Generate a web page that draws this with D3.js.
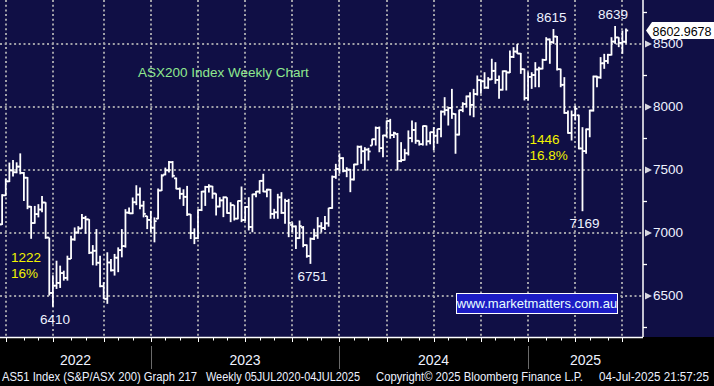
<!DOCTYPE html>
<html>
<head>
<meta charset="utf-8">
<script src="https://cdn.jsdelivr.net/npm/d3@7"></script>
<style>
body { margin: 0; background: #000; }
text { font-family: "Liberation Sans", Arial, sans-serif; }
</style>
</head>
<body>
<div class="chart"></div>
<script>
// weekly bars, first one is the week ending 11 Mar 2022
let firstWeek = new Date(2022, 2, 11);

let opens = [
	7110,7064,7295,7406,7493,7478,7523,7473,7435,7205, 7075,7146,7182,7238,6960,6520,6578,6600,6678,6640,
	6791,6945,7000,7032,7115,7104,6840,6855,6760,6574, 6474,6762,6700,6800,6860,6892,7158,7152,7240,7301,
	7213,7130,7100,7038,7110,7333,7460,7494,7558,7430, 7347,7307,7283,7144,6996,6955,7178,7325,7362,7366,
	7309,7206,7255,7279,7154,7217,7110,7251,7099,7203, 7044,7303,7325,7410,7325,7340,7148,7160,7279,7156,
	7250,7060,7048,6955,7040,6900,6813,6950,6976,7049, 7036,7073,7194,7442,7505,7590,7489,7499,7421,7540,
	7680,7645,7658,7690,7740,7830,7670,7770,7885,7773, 7780,7567,7575,7629,7749,7814,7728,7701,7845,7724,
	7796,7768,7822,7959,7971,7989,7940,7777,7971,8020, 8080,8013,8099,8209,8200,8150,8215,8283,8211,8133,
	8280,8270,8394,8436,8420,8296,8067,8235,8250,8294, 8300,8370,8532,8511,8555,8296,8172,7949,7790,7931,
	7930,7667,7646,7819,7968,8238,8231,8343,8361,8410, 8515,8548,8505,8514
];
let highs = [
	7140,7304,7428,7555,7576,7557,7628,7480,7440,7210, 7211,7225,7290,7240,6960,6660,6776,6737,6697,6816,
	6974,7040,7050,7146,7132,7106,6900,7027,6816,6605, 6843,6790,6830,6882,7027,7185,7199,7278,7375,7357,
	7251,7132,7172,7120,7349,7462,7515,7567,7567,7436, 7357,7343,7370,7146,7033,7185,7330,7370,7383,7370,
	7310,7280,7286,7280,7240,7217,7254,7365,7210,7280, 7307,7330,7415,7466,7347,7345,7188,7307,7320,7267,
	7267,7080,7055,7095,7051,6905,6960,7030,7122,7082, 7130,7196,7452,7545,7628,7598,7518,7505,7545,7690,
	7690,7677,7672,7745,7841,7841,7775,7889,7902,7800, 7790,7717,7664,7810,7889,7875,7730,7849,7849,7800,
	7836,7823,7968,8074,7994,8140,7945,7975,8034,8087, 8113,8140,8246,8215,8272,8233,8379,8352,8246,8286,
	8286,8445,8471,8497,8425,8300,8272,8272,8352,8315, 8379,8550,8540,8615,8560,8300,8233,7968,7968,8008,
	7935,7836,7825,7975,8245,8245,8392,8418,8418,8550, 8639,8550,8603,8620
];
let lows = [
	7040,7060,7290,7400,7444,7470,7462,7250,7185,6950, 7070,7120,7160,6950,6500,6410,6552,6560,6618,6618,
	6790,6935,6990,7030,6990,6829,6740,6737,6566,6473, 6434,6690,6658,6685,6803,6880,7146,7146,7217,7185,
	7120,7027,7000,6922,7106,7330,7454,7476,7436,7343, 7264,7211,7132,6948,6908,6948,7170,7211,7317,7268,
	7135,7200,7122,7148,7082,7095,7105,7082,7090,7016, 7002,7280,7307,7320,7280,7109,7109,7109,7148,7069,
	6963,7002,6870,6950,6883,6800,6751,6940,6950,7000, 7020,7046,7188,7426,7466,7479,7439,7320,7413,7535,
	7545,7492,7571,7690,7690,7637,7598,7756,7744,7750, 7492,7558,7571,7611,7717,7704,7690,7690,7690,7700,
	7651,7704,7756,7929,7849,7902,7625,7770,7955,7994, 7929,7915,8087,8101,8140,8140,8210,8180,8061,8127,
	8127,8265,8385,8418,8259,8048,8048,8140,8153,8153, 8295,8365,8339,8497,8286,8153,7942,7783,7730,7889,
	7660,7169,7625,7756,7960,8153,8220,8299,8339,8405, 8497,8471,8418,8500
];
let closes = [
	7064,7295,7406,7493,7478,7523,7473,7435,7205,7075, 7146,7182,7238,6960,6520,6578,6600,6678,6640,6791,
	6945,7000,7032,7115,7104,6840,6855,6760,6574,6474, 6762,6700,6800,6860,6892,7158,7152,7240,7301,7213,
	7148,7100,7038,7090,7333,7452,7494,7558,7450,7347, 7307,7283,7144,6996,6955,7178,7325,7362,7366,7309,
	7206,7255,7279,7154,7217,7110,7251,7099,7203,7044, 7303,7325,7410,7325,7340,7148,7160,7279,7156,7250,
	7076,7048,6955,7051,6900,6813,6950,6976,7049,7036, 7073,7194,7442,7505,7590,7489,7499,7421,7540,7680,
	7645,7658,7643,7740,7830,7670,7770,7885,7773,7789, 7567,7575,7629,7749,7814,7728,7701,7845,7724,7796,
	7768,7822,7959,7971,7989,7943,7777,7971,8020,8080, 8013,8099,8209,8200,8150,8215,8283,8211,8133,8280,
	8270,8394,8436,8420,8296,8067,8235,8250,8294,8300, 8370,8532,8511,8555,8296,8172,7949,7790,7931,7982,
	7667,7646,7819,7968,8238,8231,8343,8361,8410,8515, 8548,8505,8514,8603
];

let lastPrice = '8602.9678';
let yTicks = [6500, 7000, 7500, 8000, 8500];
let yMinorTicks = [6250, 6750, 7250, 7750, 8250, 8750];
let years = ['2022', '2023', '2024', '2025'];

// swing labels: bar index + which end of the bar
let swingBars = [15, 86, 153, 161, 170];
let swingEnds = ['low', 'low', 'high', 'low', 'high'];
let dropTexts = [['1222', '16%'], ['1446', '16.8%']];
let dropBars = [15, 161];

let footer = ['AS51 Index (S&P/ASX 200) Graph 217', 'Weekly 05JUL2020-04JUL2025',
	'Copyright\u00a9 2025 Bloomberg Finance L.P.', '04-Jul-2025 21:57:25'];

let weeks = opens.map((d, i) => d3.timeDay.offset(firstWeek, 7 * i));

let W = 714, H = 386;
let plotW = 643, plotH = 337;

let svg = d3.select('.chart')
	.append('svg')
	.attr('width', W)
	.attr('height', H);

svg.append('rect').attr('width', W).attr('height', H).style('fill', '#000');
svg.append('rect').attr('width', W).attr('height', plotH).style('fill', '#100f45');

let xScale = d3.scaleLinear()
	.domain([0, opens.length - 1])
	.range([-1.5, 626]);

let yScale = d3.scaleLinear()
	.domain([6500, 8500])
	.range([295.5, 43.5]);

// index of the last bar before a date (bloomberg puts grid/ticks there)
function barBefore(date) {
	let i = d3.bisectLeft(weeks, date) - 1;
	return i;
}

let months = d3.timeMonth.range(new Date(2022, 3, 1), new Date(2025, 7, 1));
let monthIdx = months.map(barBefore).filter(i => i >= 0);
let quarters = months.filter(m => m.getMonth() % 3 == 0);
let quarterIdx = quarters.map(barBefore).filter(i => i >= 0);
let yearStarts = [new Date(2023, 0, 1), new Date(2024, 0, 1), new Date(2025, 0, 1)];
let yearIdx = yearStarts.map(barBefore);

// grid
let grid = svg.append('g')
	.style('stroke', '#a0a0a8')
	.style('stroke-width', 2)
	.style('stroke-dasharray', '2,2.7');

grid.selectAll('.vgrid')
	.data(quarterIdx)
	.enter().append('line')
	.attr('x1', d => Math.round(xScale(d)))
	.attr('x2', d => Math.round(xScale(d)))
	.attr('y1', 0)
	.attr('y2', plotH);

grid.selectAll('.hgrid')
	.data(yTicks)
	.enter().append('line')
	.attr('x1', 0)
	.attr('x2', plotW)
	.attr('y1', d => Math.round(yScale(d)))
	.attr('y2', d => Math.round(yScale(d)));

// OHLC bars
let bars = svg.append('g')
	.style('stroke', '#fff')
	.style('stroke-width', 1.8);

let bar = bars.selectAll('.bar')
	.data(opens.map((o, i) => i))
	.enter().append('g');

bar.append('line')
	.attr('x1', i => xScale(i)).attr('x2', i => xScale(i))
	.attr('y1', i => yScale(highs[i])).attr('y2', i => yScale(lows[i]));
bar.append('line')
	.attr('x1', i => xScale(i) - 2.2).attr('x2', i => xScale(i))
	.attr('y1', i => yScale(opens[i])).attr('y2', i => yScale(opens[i]));
bar.append('line')
	.attr('x1', i => xScale(i)).attr('x2', i => xScale(i) + 2.2)
	.attr('y1', i => yScale(closes[i])).attr('y2', i => yScale(closes[i]));

// right axis
let axisG = svg.append('g')
	.attr('transform', 'translate(' + plotW + ',0)');

axisG.append('line')
	.attr('x1', 0).attr('x2', 0).attr('y1', 0).attr('y2', plotH)
	.style('stroke', '#fff').style('stroke-width', 1.5);

axisG.append('g')
	.call(d3.axisRight(yScale).tickValues(yMinorTicks).tickSize(4).tickFormat(''))
	.call(g => g.select('.domain').remove())
	.selectAll('line').style('stroke', '#fff').style('stroke-width', 1.3);

let yAxis = axisG.append('g')
	.call(d3.axisRight(yScale).tickValues(yTicks).tickSize(0).tickPadding(10).tickFormat(d3.format('d')))
	.call(g => g.select('.domain').remove());

yAxis.selectAll('text')
	.style('fill', '#eef2ff')
	.style('font-size', '13.5px')
	.style('font-family', '"Liberation Sans", Arial, sans-serif');

yAxis.selectAll('.tick')
	.append('path')
	.attr('d', 'M2,-3.5L9,0L2,3.5Z')
	.style('fill', '#d8d8e0');

// last price marker
let yl = yScale(+lastPrice);
let lp = svg.append('g').attr('transform', 'translate(0,' + yl + ')');
lp.append('path')
	.attr('d', 'M646,0L652,-8.5L714,-8.5L714,8.5L652,8.5Z')
	.style('fill', '#fff');
lp.append('text')
	.attr('x', 652.5).attr('y', 5)
	.attr('textLength', 59)
	.attr('lengthAdjust', 'spacingAndGlyphs')
	.style('font-size', '13px')
	.style('fill', '#000')
	.text(lastPrice);

// bottom axis
let bottom = svg.append('g');
bottom.append('line')
	.attr('x1', 0).attr('x2', plotW).attr('y1', plotH + 0.5).attr('y2', plotH + 0.5)
	.style('stroke', '#fff').style('stroke-width', 1.5);

bottom.selectAll('.mtick')
	.data(monthIdx)
	.enter().append('line')
	.attr('x1', d => Math.round(xScale(d)) + 0.5)
	.attr('x2', d => Math.round(xScale(d)) + 0.5)
	.attr('y1', plotH)
	.attr('y2', d => quarterIdx.includes(d) ? plotH + 5 : plotH + 3.5)
	.style('stroke', '#fff').style('stroke-width', 1);

bottom.selectAll('.ysep')
	.data(yearIdx)
	.enter().append('line')
	.attr('x1', d => Math.round(xScale(d)) + 0.5)
	.attr('x2', d => Math.round(xScale(d)) + 0.5)
	.attr('y1', 346).attr('y2', 369)
	.style('stroke', '#6a6a6a').style('stroke-width', 1);

let yearEdges = [0].concat(yearIdx.map(d => Math.round(xScale(d)))).concat([plotW]);
bottom.selectAll('.year')
	.data(years)
	.enter().append('text')
	.attr('x', (d, i) => (yearEdges[i] + yearEdges[i + 1]) / 2)
	.attr('y', 365)
	.attr('text-anchor', 'middle')
	.style('font-size', '14px')
	.style('fill', '#eef2ff')
	.text(d => d);

let footX = [2, 206, 376, 599];
let footLen = [195, 154, 207, 110];
bottom.selectAll('.foot')
	.data(footer)
	.enter().append('text')
	.attr('x', (d, i) => footX[i])
	.attr('y', 381)
	.attr('textLength', (d, i) => footLen[i])
	.attr('lengthAdjust', 'spacingAndGlyphs')
	.style('font-size', '12px')
	.style('fill', '#eef2ff')
	.text(d => d);

// swing labels
let notes = svg.append('g').style('font-size', '13.5px');
swingBars.forEach((b, k) => {
	let isHigh = swingEnds[k] == 'high';
	let v = isHigh ? highs[b] : lows[b];
	notes.append('text')
		.attr('x', xScale(b) + (isHigh ? -2 : 2))
		.attr('y', yScale(v) + (isHigh ? -7 : 17))
		.attr('text-anchor', 'middle')
		.style('fill', '#eef2ff')
		.text(v);
});

dropBars.forEach((b, k) => {
	let x0 = xScale(b) - (k == 0 ? 42 : 53);
	let y0 = k == 0 ? yScale(lows[b]) - 45 : yScale(lows[b]) - 67;
	dropTexts[k].forEach((t, j) => {
		notes.append('text')
			.attr('x', x0)
			.attr('y', y0 + j * 16)
			.style('fill', '#f2f200')
			.text(t);
	});
});

svg.append('text')
	.attr('x', 138).attr('y', 77)
	.style('font-size', '13.5px')
	.style('fill', '#8fe88f')
	.text('ASX200 Index Weekly Chart');

// site box
let site = svg.append('g');
site.append('rect')
	.attr('x', 456.5).attr('y', 293.5).attr('width', 161).attr('height', 20)
	.style('fill', '#1c1cc4').style('stroke', '#fff').style('stroke-width', 1);
site.append('text')
	.attr('x', 537).attr('y', 308)
	.attr('text-anchor', 'middle')
	.style('font-size', '13px')
	.style('fill', '#e8ffff')
	.text('www.marketmatters.com.au');
</script>
</body>
</html>
